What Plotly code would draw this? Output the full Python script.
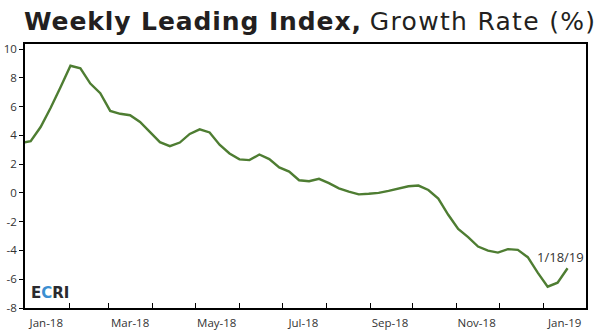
import plotly.graph_objects as go

dates = [
    "2017-12-29", "2018-01-05", "2018-01-12", "2018-01-19", "2018-01-26",
    "2018-02-02", "2018-02-09", "2018-02-16", "2018-02-23", "2018-03-02",
    "2018-03-09", "2018-03-16", "2018-03-23", "2018-03-30", "2018-04-06",
    "2018-04-13", "2018-04-20", "2018-04-27", "2018-05-04", "2018-05-11",
    "2018-05-18", "2018-05-25", "2018-06-01", "2018-06-08", "2018-06-15",
    "2018-06-22", "2018-06-29", "2018-07-06", "2018-07-13", "2018-07-20",
    "2018-07-27", "2018-08-03", "2018-08-10", "2018-08-17", "2018-08-24",
    "2018-08-31", "2018-09-07", "2018-09-14", "2018-09-21", "2018-09-28",
    "2018-10-05", "2018-10-12", "2018-10-19", "2018-10-26", "2018-11-02",
    "2018-11-09", "2018-11-16", "2018-11-23", "2018-11-30", "2018-12-07",
    "2018-12-14", "2018-12-21", "2018-12-28", "2019-01-04", "2019-01-11",
    "2019-01-18",
]
growth = [
    3.47, 3.60, 4.58, 5.90, 7.35,
    8.84, 8.66, 7.60, 6.93, 5.70,
    5.50, 5.40, 4.93, 4.25, 3.53,
    3.25, 3.50, 4.10, 4.42, 4.20,
    3.35, 2.74, 2.33, 2.28, 2.67,
    2.35, 1.77, 1.48, 0.88, 0.81,
    0.98, 0.68, 0.32, 0.09, -0.10,
    -0.06, 0.00, 0.14, 0.32, 0.46,
    0.51, 0.20, -0.40, -1.52, -2.51,
    -3.07, -3.73, -4.01, -4.15, -3.91,
    -3.96, -4.47, -5.54, -6.52, -6.24,
    -5.24,
]
x_label_dates = ["2018-01-16", "2018-03-16", "2018-05-16", "2018-07-16",
                 "2018-09-15", "2018-11-15", "2019-01-16"]
x_labels = ["Jan-18", "Mar-18", "May-18", "Jul-18", "Sep-18", "Nov-18", "Jan-19"]
month_starts = ["2018-02-01", "2018-03-01", "2018-04-01", "2018-05-01",
                "2018-06-01", "2018-07-01", "2018-08-01", "2018-09-01",
                "2018-10-01", "2018-11-01", "2018-12-01", "2019-01-01"]
y_ticks = [-8, -6, -4, -2, 0, 2, 4, 6, 8, 10]
y_labels = ["-8", "-6", "-4", "-2", "0", "2", "4", "6", "8", "10"]

fig = go.Figure()
fig.add_trace(go.Scatter(
    x=dates, y=growth, mode="lines",
    line=dict(color="#4e7d32", width=2.4),
    hoverinfo="skip", showlegend=False,
))

fig.update_layout(
    width=600, height=335,
    margin=dict(l=25, r=14, t=44, b=27, autoexpand=False),
    paper_bgcolor="white", plot_bgcolor="white",
    font=dict(family="Open Sans, sans-serif", size=11, color="#333333"),
    title=dict(
        text=("<span style='font-weight:bold;letter-spacing:0.9px'>Weekly Leading Index,</span> "
              "<span style='font-weight:normal;letter-spacing:1.3px'>Growth Rate (%)</span>"),
        font=dict(family="DejaVu Sans, sans-serif", size=25, color="#231f20"),
        xref="container", yref="container",
        x=24 / 600, xanchor="left",
        y=1 - 21 / 335, yanchor="middle",
    ),
    xaxis=dict(
        type="date",
        range=["2018-01-01", "2019-01-31"],
        tickmode="array", tickvals=x_label_dates, ticktext=x_labels,
        ticks="", showgrid=False, zeroline=False, automargin=False,
        showline=True, linecolor="black", linewidth=1.6, mirror=True,
        tickfont=dict(size=11.5, color="#333333"),
        ticklabelstandoff=3,
        minor=dict(tickmode="array", tickvals=month_starts, ticks="inside",
                   ticklen=5, tickcolor="black", tickwidth=1.3, showgrid=False),
    ),
    yaxis=dict(
        range=[-8, 10.35],
        tickmode="array", tickvals=y_ticks, ticktext=y_labels,
        ticks="outside", ticklen=4, tickcolor="black", tickwidth=1.3,
        showgrid=False, zeroline=False, automargin=False,
        showline=True, linecolor="black", linewidth=1.6, mirror=True,
        tickfont=dict(size=11.5, color="#333333"),
    ),
    annotations=[
        dict(text="<b>E<span style='color:#3b8fd1'>C</span>RI</b>",
             xref="paper", yref="paper", x=0.007, y=0.055,
             xanchor="left", yanchor="middle", showarrow=False,
             font=dict(family="DejaVu Sans, sans-serif", size=15, color="#2a2a2e")),
        dict(text="1/18/19", xref="x", yref="y", x="2019-01-13", y=-4.43,
             xanchor="center", yanchor="middle", showarrow=False,
             font=dict(family="Open Sans, sans-serif", size=13, color="#333333")),
    ],
)

fig.write_html("out.html")
